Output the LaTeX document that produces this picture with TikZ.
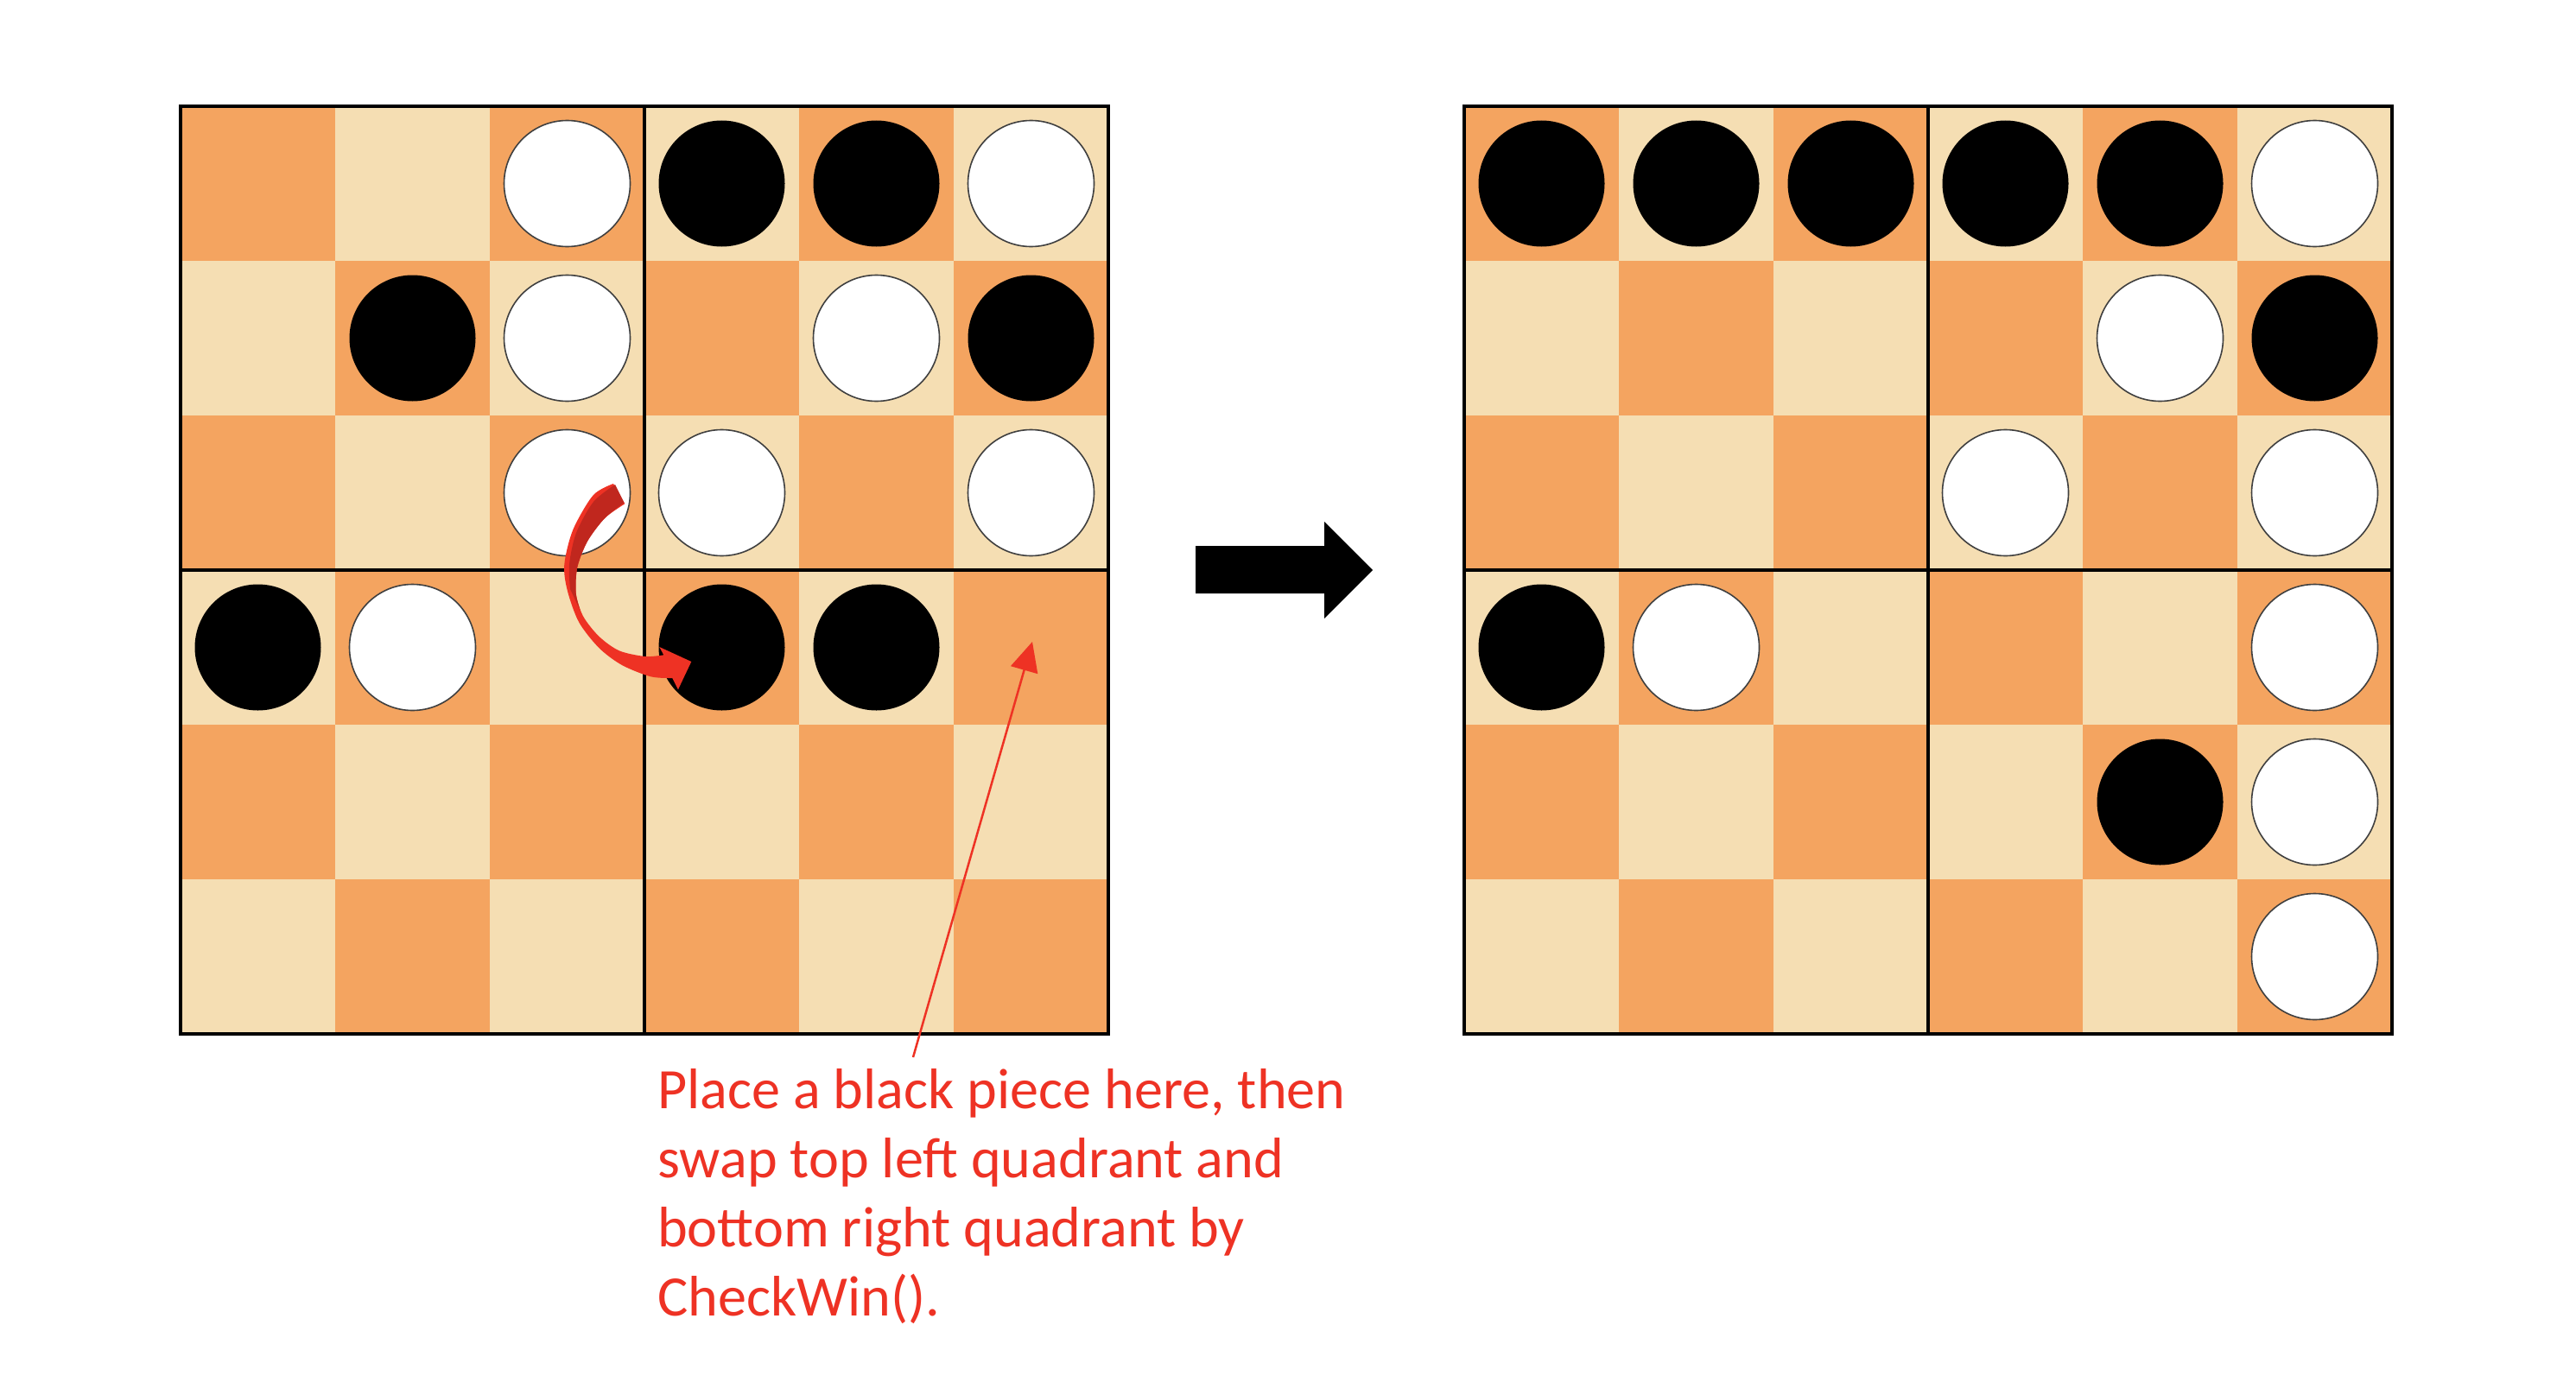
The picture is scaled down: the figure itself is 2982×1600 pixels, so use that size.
\documentclass[tikz,border=0pt]{standalone}
\usepackage{fontspec}
\setmainfont{Carlito}
\usetikzlibrary{arrows.meta}
\definecolor{cellD}{HTML}{F4A460}
\definecolor{cellL}{HTML}{F5DEB3}
\definecolor{redA}{HTML}{EE3224}
\definecolor{redB}{HTML}{C0271E}
\tikzset{
  wp/.style={circle, minimum size=146pt, inner sep=0pt, fill=white, draw=black!75, line width=1.6pt},
  bp/.style={circle, minimum size=146pt, inner sep=0pt, fill=black},
  boardline/.style={line width=4.5pt, black},
  notetext/.style={font=\fontsize{66.2}{80}\selectfont, text=redA, align=left, inner sep=0pt, anchor=base west},
  pointer/.style={redA, line width=2.5pt, -{Triangle[length=34pt,width=32pt]}}
}
\begin{document}
\begin{tikzpicture}[x=1pt,y=-1pt]
\useasboundingbox (0,0) rectangle (2982,1600);
\fill[white] (0,0) rectangle (2982,1600);
% checker cells of both boards
\foreach \bx in {209,1695}{
  \foreach \r in {0,...,5}{
    \foreach \c in {0,...,5}{
      \pgfmathtruncatemacro\pp{mod(\r+\c,2)}
      \ifnum\pp=0 \def\cc{cellD}\else\def\cc{cellL}\fi
      \fill[\cc] ({\bx+179*\c},{123+179*\r}) rectangle +(179,179);
    }
  }
  \draw[boardline] (\bx,123) rectangle +(1074,1074);
  \draw[boardline] ({\bx+537},123) -- +(0,1074);
  \draw[boardline] (\bx,660) -- +(1074,0);
}
% left board pieces
\foreach \r/\c/\t in {0/2/wp,0/3/bp,0/4/bp,0/5/wp,
                      1/1/bp,1/2/wp,1/4/wp,1/5/bp,
                      2/2/wp,2/3/wp,2/5/wp,
                      3/0/bp,3/1/wp,3/3/bp,3/4/bp}{
  \node[\t] (L-\r-\c) at ({298.5+179*\c},{212.5+179*\r}) {};
}
% right board pieces
\foreach \r/\c/\t in {0/0/bp,0/1/bp,0/2/bp,0/3/bp,0/4/bp,0/5/wp,
                      1/4/wp,1/5/bp,
                      2/3/wp,2/5/wp,
                      3/0/bp,3/1/wp,3/5/wp,
                      4/4/bp,4/5/wp,
                      5/5/wp}{
  \node[\t] (R-\r-\c) at ({1784.5+179*\c},{212.5+179*\r}) {};
}
% curved red arrow
\fill[redA] plot[smooth] coordinates {(710,560) (686.7,573.3) (663.3,613.3) (653.3,653.3) (656.7,683.3) (670,720) (693.3,750) (720,770) (753.3,783.3) (778.3,785)}
  -- (785,798.3) -- (800.3,766) -- (763.3,749)
  -- plot[smooth] coordinates {(768.3,758.3) (746.7,760) (716.7,753.3) (693.3,736.7) (675,713.3) (666.7,686.7) (668.3,656.7) (680,626.7) (700,600) (723.3,583.3)}
  -- cycle;
\fill[redB] (712,561)
  -- plot[smooth] coordinates {(722.5,582) (700,600) (680,626.7) (668.3,656.7) (666.7,686.7) (671.7,706.7)}
  -- plot[smooth] coordinates {(660,682) (659,653.3) (667,617) (687,581) (712,561)}
  -- cycle;
% big black arrow
\fill[black] (1384,632) -- (1533,632) -- (1533,604) -- (1589,660) -- (1533,716) -- (1533,687) -- (1384,687) -- cycle;
% note and pointer
\node[notetext] (note) at (761,1523) {Place a black piece here, then\\swap top left quadrant and\\bottom right quadrant by\\CheckWin().};
\coordinate (noteend) at (1057,1224);
\coordinate (target) at (1195,743);
\draw[pointer] (noteend) -- (target);
\end{tikzpicture}
\end{document}
